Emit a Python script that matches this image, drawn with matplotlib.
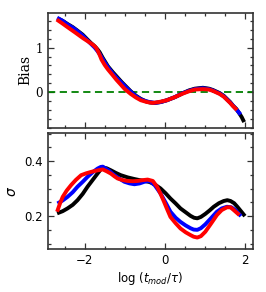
import numpy as np
import matplotlib
matplotlib.use("Agg")
import matplotlib.pyplot as plt
from matplotlib.ticker import MultipleLocator

# ---- Data ----
bias_black_x = [-2.68, -2.55, -2.43, -2.3, -2.18, -2.05, -1.93, -1.84, -1.75, -1.68, -1.63, -1.55, -1.42, -1.3, -1.21, -1.08, -0.96, -0.85, -0.72, -0.6, -0.48, -0.38, -0.25, -0.1, 0.05, 0.25, 0.45, 0.6, 0.75, 0.95, 1.1, 1.2, 1.37, 1.47, 1.55, 1.63, 1.7, 1.78, 1.85, 1.92, 1.98]
bias_black_y = [1.66, 1.60, 1.53, 1.46, 1.38, 1.29, 1.18, 1.10, 1.03, 0.96, 0.90, 0.77, 0.58, 0.45, 0.36, 0.23, 0.12, 0.02, -0.08, -0.15, -0.20, -0.23, -0.24, -0.22, -0.18, -0.11, -0.02, 0.04, 0.08, 0.10, 0.08, 0.05, -0.02, -0.08, -0.15, -0.22, -0.30, -0.37, -0.46, -0.56, -0.67]

bias_blue_x = [-2.69, -2.55, -2.43, -2.3, -2.18, -2.05, -1.93, -1.84, -1.75, -1.68, -1.63, -1.55, -1.42, -1.3, -1.21, -1.08, -0.96, -0.85, -0.72, -0.6, -0.48, -0.38, -0.25, -0.1, 0.05, 0.25, 0.45, 0.6, 0.75, 0.95, 1.1, 1.2, 1.37, 1.47, 1.55, 1.63, 1.7, 1.8, 1.89]
bias_blue_y = [1.67, 1.60, 1.52, 1.45, 1.37, 1.27, 1.16, 1.08, 1.00, 0.92, 0.86, 0.74, 0.56, 0.42, 0.33, 0.21, 0.10, 0.01, -0.09, -0.16, -0.20, -0.22, -0.24, -0.22, -0.18, -0.11, -0.02, 0.03, 0.07, 0.09, 0.07, 0.04, -0.03, -0.09, -0.16, -0.23, -0.30, -0.40, -0.50]

bias_red_x = [-2.70, -2.57, -2.43, -2.24, -2.04, -1.92, -1.79, -1.72, -1.67, -1.62, -1.58, -1.50, -1.42, -1.3, -1.21, -1.1, -1.0, -0.85, -0.72, -0.6, -0.45, -0.3, -0.15, 0.05, 0.25, 0.45, 0.6, 0.75, 0.95, 1.1, 1.2, 1.37, 1.47, 1.55, 1.63, 1.7, 1.80]
bias_red_y = [1.63, 1.55, 1.46, 1.34, 1.21, 1.14, 1.06, 1.00, 0.92, 0.82, 0.73, 0.61, 0.51, 0.38, 0.28, 0.17, 0.07, -0.04, -0.12, -0.18, -0.22, -0.24, -0.22, -0.18, -0.11, -0.03, 0.02, 0.06, 0.07, 0.06, 0.03, -0.04, -0.10, -0.17, -0.24, -0.31, -0.40]

sig_black_x = [-2.69, -2.55, -2.43, -2.3, -2.18, -2.05, -1.93, -1.8, -1.68, -1.6, -1.55, -1.45, -1.35, -1.22, -1.10, -0.93, -0.76, -0.63, -0.51, -0.38, -0.26, -0.11, 0.02, 0.14, 0.27, 0.39, 0.52, 0.64, 0.73, 0.81, 0.9, 1.01, 1.12, 1.22, 1.35, 1.47, 1.56, 1.64, 1.73, 1.81, 1.9, 2.0]
sig_black_y = [0.210, 0.218, 0.228, 0.241, 0.258, 0.281, 0.307, 0.332, 0.355, 0.370, 0.377, 0.374, 0.367, 0.357, 0.349, 0.341, 0.335, 0.331, 0.328, 0.324, 0.316, 0.301, 0.283, 0.264, 0.246, 0.228, 0.214, 0.201, 0.194, 0.192, 0.197, 0.208, 0.221, 0.234, 0.247, 0.255, 0.258, 0.255, 0.247, 0.234, 0.218, 0.200]

sig_blue_x = [-2.68, -2.55, -2.43, -2.3, -2.18, -2.05, -1.93, -1.8, -1.68, -1.6, -1.55, -1.4, -1.26, -1.13, -1.01, -0.88, -0.76, -0.63, -0.51, -0.42, -0.35, -0.25, -0.11, 0.02, 0.14, 0.27, 0.39, 0.52, 0.64, 0.72, 0.81, 0.9, 1.01, 1.15, 1.30, 1.42, 1.55, 1.66, 1.76, 1.90]
sig_blue_y = [0.246, 0.257, 0.270, 0.287, 0.307, 0.325, 0.343, 0.360, 0.373, 0.379, 0.380, 0.366, 0.349, 0.336, 0.325, 0.319, 0.316, 0.319, 0.325, 0.328, 0.325, 0.312, 0.283, 0.249, 0.216, 0.194, 0.179, 0.166, 0.156, 0.151, 0.150, 0.156, 0.170, 0.192, 0.216, 0.228, 0.234, 0.232, 0.222, 0.200]

sig_red_x = [-2.69, -2.62, -2.55, -2.45, -2.34, -2.22, -2.09, -1.96, -1.84, -1.7, -1.55, -1.45, -1.35, -1.26, -1.18, -1.05, -0.93, -0.8, -0.68, -0.55, -0.43, -0.3, -0.19, -0.1, -0.02, 0.06, 0.14, 0.27, 0.39, 0.52, 0.64, 0.72, 0.81, 0.9, 1.01, 1.15, 1.30, 1.42, 1.55, 1.64, 1.72, 1.86]
sig_red_y = [0.216, 0.245, 0.270, 0.293, 0.313, 0.332, 0.349, 0.356, 0.361, 0.366, 0.370, 0.363, 0.355, 0.345, 0.337, 0.331, 0.328, 0.327, 0.328, 0.331, 0.333, 0.328, 0.306, 0.279, 0.252, 0.224, 0.197, 0.174, 0.155, 0.141, 0.131, 0.125, 0.122, 0.127, 0.143, 0.172, 0.204, 0.222, 0.232, 0.232, 0.222, 0.204]

fig = plt.figure(figsize=(2.66, 2.92), dpi=100)
ax1 = fig.add_axes([0.180, 0.562, 0.771, 0.394])
ax2 = fig.add_axes([0.180, 0.147, 0.771, 0.397])

lw = 2.8
ax1.axhline(0, color='green', ls='--', lw=1.3, dashes=(4, 2.5))
for (x, y, c) in [(bias_black_x, bias_black_y, 'black'), (bias_blue_x, bias_blue_y, 'blue'), (bias_red_x, bias_red_y, 'red')]:
    ax1.plot(x, y, color=c, lw=lw, solid_capstyle='butt', solid_joinstyle='round')
for (x, y, c) in [(sig_black_x, sig_black_y, 'black'), (sig_blue_x, sig_blue_y, 'blue'), (sig_red_x, sig_red_y, 'red')]:
    ax2.plot(x, y, color=c, lw=lw, solid_capstyle='butt', solid_joinstyle='round')

for ax in (ax1, ax2):
    ax.set_xlim(-2.92, 2.2)
    ax.xaxis.set_major_locator(MultipleLocator(2))
    ax.xaxis.set_minor_locator(MultipleLocator(0.5))
    ax.tick_params(which='both', direction='in', top=True, right=True, labelsize=8.5, width=0.9, color='#333333')
    ax.tick_params(which='major', length=4.5)
    ax.tick_params(which='minor', length=2.5)
    for s in ax.spines.values():
        s.set_linewidth(1.2)
        s.set_color('#333333')

ax1.set_ylim(-0.80, 1.78)
ax1.yaxis.set_major_locator(MultipleLocator(1))
ax1.yaxis.set_minor_locator(MultipleLocator(0.2))
ax1.tick_params(labelbottom=False)
for lab in ax1.get_yticklabels():
    lab.set_family('DejaVu Serif')
ax1.set_ylabel('Bias', family='DejaVu Serif', fontsize=10, labelpad=2)

ax2.set_ylim(0.08, 0.502)
ax2.yaxis.set_major_locator(MultipleLocator(0.2))
ax2.yaxis.set_minor_locator(MultipleLocator(0.05))
ax2.set_ylabel(r'$\sigma$', fontsize=10, labelpad=4)
ax2.set_xlabel(r'log ($t_{mod}/\tau$)', fontsize=8.5, labelpad=2)

fig.savefig('out.png', dpi=100)
